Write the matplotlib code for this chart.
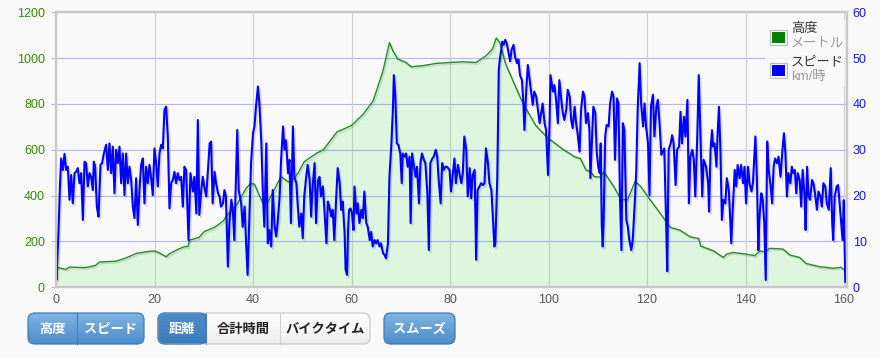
import matplotlib
matplotlib.use('Agg')
import numpy as np
import matplotlib.pyplot as plt
import matplotlib.patheffects as pe
from matplotlib.patches import FancyBboxPatch, Rectangle
from matplotlib.colors import LinearSegmentedColormap

plt.rcParams['font.family'] = ['Liberation Sans', 'Noto Sans CJK JP', 'DejaVu Sans']

# --------------------- Data ---------------------
elev_km = [0, 0.7, 2, 2.7, 6, 8, 8.8, 12.2, 14.2, 16.3, 18.3, 20, 21, 22.4, 23, 25, 26.1,
           26.8, 27.1, 29, 30.1, 32.2, 34, 34.5, 36.9, 38.6, 39.5, 40.3, 41, 42, 43, 45.7,
           47.1, 47.8, 49.1, 50.4, 52.9, 54.3, 57, 60, 62.4, 64.4, 66.4, 67.7, 68.4, 69.4,
           71.1, 72.1, 74.5, 77.2, 80, 82.6, 85.3, 87.3, 88.6, 89.4, 90.1, 91.3, 94.7, 97.4,
           99.7, 102.8, 105.3, 106.5, 107.6, 108.5, 109.3, 110.6, 111.2, 113.3, 114.6, 116,
           117.6, 118.7, 120.7, 122.7, 124.7, 126.7, 128.8, 130.5, 130.9, 133.5, 135.5, 136.2,
           137.5, 140, 141.9, 142.9, 143.9, 144.9, 147.6, 149, 151, 152.3, 155, 157.8, 159.4,
           160.3]
elev_m = [85, 85, 78, 88, 86, 95, 110, 114, 128, 148, 155, 159, 150, 133, 146, 168, 177,
          178, 206, 217, 243, 262, 290, 308, 367, 432, 453, 450, 415, 367, 372, 483,
          461, 462, 497, 548, 585, 600, 677, 706, 756, 814, 945, 1068, 1032, 996,
          981, 962, 967, 977, 981, 984, 981, 1010, 1039, 1088, 1068, 974, 807, 706,
          655, 604, 570, 561, 512, 505, 483, 481, 505, 438, 387, 380,
          462, 440, 380, 322, 262, 249, 220, 213, 180, 159, 130, 145,
          152, 145, 138, 159, 155, 170, 167, 141, 130, 104, 90, 83, 87,
          72]

speed_km = [0.0, 0.1, 0.5, 0.8, 1.05, 1.39, 1.73, 2.06, 2.4, 2.74, 3.08, 3.42, 3.76, 4.09,
            4.43, 4.77, 5.11, 5.45, 5.79, 6.12, 6.46, 6.8, 7.14, 7.48, 7.68, 7.95, 8.29, 8.63,
            9.03, 9.37, 9.71, 10.18, 10.52, 10.86, 11.2, 11.54, 11.87, 12.21, 12.55, 12.89,
            13.23, 13.57, 13.9, 14.24, 14.58, 14.92, 15.26, 15.6, 15.93, 16.27, 16.61, 16.95,
            17.29, 17.63, 17.96, 18.3, 18.64, 18.98, 19.32, 19.65, 19.99, 20.33, 20.67, 21.01,
            21.35, 21.69, 22.02, 22.36, 22.7, 23.04, 23.38, 23.72, 24.05, 24.39, 24.73, 25.07,
            25.41, 25.75, 26.08, 26.42,
            26.9, 27.3, 27.8, 28.1, 28.5, 28.8, 29.1, 29.5, 29.8, 30.1, 30.5, 30.8, 31.2, 31.5,
            31.8, 32.2, 32.5, 32.9, 33.2, 33.5, 33.9, 34.2, 34.5, 34.9, 35.2, 35.6, 35.9, 36.2,
            36.6, 36.8, 37.1, 37.6, 37.9, 38.3, 38.6, 38.9, 39.3, 39.6, 40.0, 40.3, 40.6, 41.0,
            41.3, 41.7, 42.0, 42.3, 42.7, 43.0, 43.3, 43.7, 44.0, 44.4, 44.7, 45.0, 45.4, 45.7,
            46.1, 46.4, 46.7, 47.1, 47.4, 47.7, 48.1, 48.4, 48.8, 49.1, 49.4, 49.8, 50.1, 50.4,
            50.8, 51.1, 51.5, 51.8, 52.1,
            52.5, 52.8, 53.2, 53.5, 53.8, 54.2, 54.5, 54.9, 55.2, 55.5, 55.9, 56.2, 56.5, 56.9,
            57.2, 57.6, 57.9, 58.2, 58.6, 58.8, 59.1, 59.3, 59.5, 59.8, 60.1, 60.4, 60.6, 61.0,
            61.3, 61.6, 62.0, 62.3, 62.6, 63.0, 63.3, 63.7, 64.0, 64.3, 64.7, 65.0, 65.3, 65.7,
            66.0, 66.4, 66.7, 67.0, 67.4, 67.7, 68.1, 68.4, 68.6, 68.9, 69.2, 69.5, 69.9, 70.2,
            70.4, 70.8, 71.1, 71.4, 71.8, 72.0, 72.3, 72.7, 73.0, 73.3, 73.7, 74.0, 74.3, 74.7,
            75.0, 75.4, 75.7, 76.0, 76.4, 76.7, 77.1, 77.4, 77.7, 78.1, 78.4, 78.7, 79.1, 79.4,
            79.9, 80.2, 80.6, 80.9, 81.2, 81.6, 81.9, 82.3, 82.6, 82.9, 83.3, 83.6, 84.0, 84.3,
            84.6, 85.0, 85.3, 85.6, 86.0, 86.3, 86.7, 87.0, 87.3, 87.7, 88.0, 88.4, 88.7, 89.0,
            89.2, 89.6, 89.9, 90.1, 90.4, 90.6, 90.9, 91.2, 91.5, 91.9, 92.2, 92.5, 92.9, 93.2,
            93.6, 93.9, 94.2, 94.6, 94.9, 95.1, 95.5, 95.8, 96.1, 96.5, 96.8, 97.1, 97.5, 97.8,
            98.2, 98.5, 98.8, 99.2, 99.5, 99.9, 100.2, 100.4, 100.7, 100.9, 101.2, 101.5, 101.9,
            102.2, 102.6, 102.9, 103.2, 103.6, 103.9, 104.3, 104.6, 104.9, 105.3, 105.6, 105.9,
            106.3, 106.6, 107.0, 107.3, 107.6, 108.0, 108.3, 108.5, 108.8, 109.1, 109.5, 109.8,
            110.1, 110.4, 110.6, 110.8, 111.0, 111.2, 111.5, 111.8, 112.2, 112.5, 112.9, 113.2,
            113.5, 113.9, 114.2, 114.5, 114.8, 115.1, 115.4, 115.8, 116.1, 116.4, 116.8, 117.1,
            117.5, 117.8, 118.1, 118.5, 118.8, 119.2, 119.5, 119.8, 120.2, 120.5, 120.8, 121.2,
            121.5, 121.9, 122.2, 122.5, 122.9, 123.2, 123.5, 123.9, 124.1, 124.4, 124.8, 125.1,
            125.4, 125.8, 126.1, 126.5, 126.8, 127.1, 127.5, 127.8, 128.2, 128.5, 128.8, 129.2,
            129.5, 129.8, 130.2, 130.5, 130.9, 131.2, 131.5,
            132.0, 132.4, 132.6, 132.9, 133.2, 133.4, 133.7, 134.1, 134.3, 134.6, 134.9, 135.2,
            135.5, 135.9, 136.2, 136.6, 136.8, 137.1, 137.4, 137.8, 138.1, 138.4, 138.8, 139.1,
            139.5, 139.8, 140.1, 140.5, 140.8, 141.2, 141.5, 142.0, 142.3, 142.6, 142.8, 143.2,
            143.5, 143.8, 144.1, 144.4, 144.7, 145.1, 145.4, 145.7, 146.0, 146.4, 146.7, 147.1,
            147.5, 147.8, 148.1, 148.4, 148.7, 149.1, 149.4, 149.7, 150.0, 150.3, 150.6, 151.0,
            151.3, 151.6, 152.0, 152.2, 152.5, 152.8, 153.1, 153.5, 153.8, 154.1, 154.5, 154.8,
            155.2, 155.5, 155.8, 156.2, 156.5, 156.9, 157.3, 157.6, 157.8, 158.1, 158.5, 158.8,
            159.2, 159.4, 159.7, 159.95, 160.25]
speed_kmh = [4.0, 1.6, 12.0, 22.0, 28.1, 25.6, 29.1, 25.6, 26.3, 19.1, 24.5, 18.3, 24.9, 25.2,
             26.0, 22.7, 24.9, 14.7, 27.4, 27.1, 22.0, 24.9, 24.1, 21.2, 27.4, 26.3, 17.6, 15.4,
             26.7, 27.1, 29.2, 31.1, 25.6, 31.4, 24.9, 30.7, 20.5, 30.0, 27.1, 30.7,
             22.7, 29.2, 20.1, 29.2, 22.7, 26.3, 23.4, 17.6, 15.1, 23.8, 13.6, 21.2,
             26.7, 28.1, 18.3, 26.3, 22.7, 26.7, 23.8, 20.1, 30.3, 27.1, 22.0, 29.2,
             31.1, 30.3, 38.7, 39.4, 32.9, 17.2, 22.7, 23.4, 25.2, 22.7, 24.9, 23.4,
             24.1, 17.6, 26.3, 25.6,
             10.3, 24.9, 20.9, 24.1, 16.1, 36.5, 15.8, 21.2, 24.1, 22.0, 19.8, 24.9, 31.4, 31.8,
             18.3, 25.2, 22.7, 20.5, 19.8, 17.6, 18.3, 21.2, 19.8, 4.5, 14.0, 19.1, 16.9, 10.3,
             26.3, 34.3, 21.2, 18.3, 13.2, 17.6, 9.6, 2.7, 16.9, 27.1, 33.6, 35.1, 39.4, 43.8,
             40.1, 31.4, 20.5, 13.2, 31.4, 9.6, 12.5, 8.9, 21.2, 13.2, 11.1, 14.0, 19.8, 27.8,
             35.1, 30.0, 32.1, 24.9, 27.8, 14.0, 35.1, 24.1, 22.7, 17.6, 13.2, 16.1, 10.7, 19.8,
             24.1, 26.7, 23.4, 15.4, 22.0,
             27.1, 14.0, 23.4, 24.1, 19.8, 22.0, 16.9, 9.6, 18.7, 17.6, 15.4, 16.9, 10.3, 19.8,
             26.0, 22.7, 16.9, 18.7, 11.8, 3.8, 2.7, 12.5, 16.9, 17.2, 16.1, 12.5, 22.0, 16.1,
             18.3, 14.0, 16.9, 15.1, 20.9, 14.0, 13.2, 10.3, 12.1, 8.9, 10.3, 9.6, 10.3, 8.9,
             9.6, 7.4, 7.1, 6.3, 9.6, 24.1, 31.4, 38.7, 46.3, 41.6, 31.4, 31.1, 29.2, 22.7,
             29.2, 28.5, 29.2, 26.3, 28.5, 14.0, 29.2, 26.3, 24.1, 26.3, 18.3, 27.1, 29.2, 27.8,
             27.1, 20.5, 8.1, 27.1, 28.1, 28.5, 30.0, 28.5, 23.4, 18.3, 27.1, 25.6, 26.3, 26.3,
             25.6, 20.9, 24.9, 28.1, 22.7, 26.7, 24.9, 22.7, 24.9, 32.9, 30.0, 19.8, 26.0, 19.4,
             24.5, 25.6, 6.0, 21.2, 22.0, 22.7, 22.3, 22.7, 30.3, 27.1, 22.7, 21.2, 15.4, 8.9,
             9.6, 24.1, 47.4, 49.6, 51.8, 53.6, 52.9, 54.0, 53.3, 51.1, 49.3, 51.8, 52.9, 50.3,
             48.9, 49.7, 46.3, 45.2, 40.1, 34.3, 43.4, 48.5, 46.0, 42.3, 39.8, 42.7, 41.6, 39.1,
             35.8, 38.0, 40.1, 35.8, 34.3, 24.5, 35.1, 46.3, 44.1, 42.7, 44.1, 41.2, 35.8,
             45.2, 40.9, 38.0, 36.5, 38.7, 43.1, 41.6, 36.5, 34.7, 39.4, 35.8, 33.6,
             29.6, 38.7, 42.7, 41.6, 35.8, 38.0, 34.3, 23.8, 31.4, 39.4, 38.0, 29.2,
             26.3, 24.9, 31.4, 14.0, 8.9, 14.7, 32.9, 35.4, 35.1, 40.1, 42.7, 41.6,
             27.8, 41.2, 40.1, 19.8, 8.1, 35.8, 34.3, 14.7, 13.2, 10.3, 8.1, 10.3,
             18.3, 24.9, 38.7, 48.9, 40.1, 35.1, 40.1, 35.1, 31.4, 20.1, 39.4, 42.0,
             32.9, 39.4, 40.9, 36.5, 28.9, 29.6, 30.3, 13.2, 3.5, 30.0, 31.4, 33.2,
             31.4, 22.3, 30.0, 30.7, 38.3, 31.4, 37.2, 32.9, 40.9, 18.3, 28.5, 30.0,
             27.8, 19.8, 32.9, 46.3, 31.4, 19.8, 27.8,
             26.3, 22.7, 16.5, 30.0, 34.3, 30.7, 31.4, 26.3, 32.9, 39.4, 30.0, 14.7,
             19.1, 18.3, 23.8, 21.2, 16.9, 9.6, 16.9, 25.6, 22.0, 26.7, 23.8, 26.7,
             22.7, 26.3, 18.3, 26.3, 22.7, 20.9, 22.7, 32.9, 24.1, 8.1, 14.7, 20.5,
             19.1, 14.0, 1.6, 31.8, 25.6, 22.0, 18.3, 26.3, 28.1, 27.1, 28.5, 24.1,
             30.0, 33.6, 29.2, 19.8, 24.9, 22.7, 26.3, 24.9, 25.6, 20.5, 24.9, 23.4,
             17.6, 25.6, 19.8, 12.5, 26.3, 19.8, 19.1, 23.4, 22.7, 20.5, 16.9, 20.9,
             19.8, 17.6, 22.7, 22.0, 18.3, 16.9, 26.0, 14.0, 10.3, 19.8, 22.0, 22.3,
             16.9, 14.0, 10.3, 19.0, 1.2]

x_ticks = [0, 20, 40, 60, 80, 100, 120, 140, 160]
elev_ticks = [0, 200, 400, 600, 800, 1000, 1200]
speed_ticks = [0, 10, 20, 30, 40, 50, 60]

legend_items = [('高度', 'メートル', '#008000'), ('スピード', 'km/時', '#0000ff')]
buttons = [
    # (group, label, state)
    (0, '高度', 'on'), (0, 'スピード', 'on'),
    (1, '距離', 'active'), (1, '合計時間', 'off'), (1, 'バイクタイム', 'off'),
    (2, 'スムーズ', 'on'),
]

# --------------------- Figure ---------------------
W, H = 880, 358
BG = '#f9f9f9'
fig = plt.figure(figsize=(W / 100, H / 100), dpi=100, facecolor=BG)


def px_box(x0, y0, x1, y1):
    return [x0 / W, 1 - y1 / H, (x1 - x0) / W, (y1 - y0) / H]


ax = fig.add_axes(px_box(56, 12.3, 846.5, 287.3))
ax.set_facecolor(BG)
ax2 = ax.twinx()

# elevation area
ax.fill_between(elev_km, elev_m, 0, color='#00e000', alpha=0.11, lw=0, zorder=2)
ax.plot(elev_km, elev_m, color='#228b22', lw=1.0, zorder=3,
        path_effects=[pe.SimpleLineShadow(offset=(1, -1.2), shadow_color='k', alpha=0.12),
                      pe.Normal()])

# speed line
ax2.plot(speed_km, speed_kmh, color='#0000ff', lw=1.5, solid_joinstyle='round',
         path_effects=[pe.SimpleLineShadow(offset=(1.2, -1.5), shadow_color='k', alpha=0.13),
                       pe.Normal()])

ax.set_xlim(0, 160.5)
ax.set_ylim(0, 1200)
ax2.set_ylim(0, 60)
ax.set_xticks(x_ticks)
ax.set_yticks(elev_ticks)
ax2.set_yticks(speed_ticks)

# grid
for v in elev_ticks[1:-1]:
    ax.axhline(v, color='#b3b3fa', lw=0.8, zorder=1)
for v in x_ticks[1:]:
    ax.axvline(v, color='#cfcfcf', lw=0.8, zorder=1)

ax.tick_params(axis='y', colors='#bbbbbb', labelcolor='#3a8a00', length=3.5, width=0.8,
               pad=4.5, labelsize=9)
ax.tick_params(axis='x', length=0, pad=5, labelcolor='#555555', labelsize=9)
ax2.tick_params(axis='y', length=0, pad=4.5, labelcolor='#1515ff', labelsize=9)

for a in (ax, ax2):
    for s in a.spines.values():
        s.set_color('#c8c8c8')
        s.set_linewidth(1.6)

# --------------------- Overlay: legend and buttons ---------------------
ov = fig.add_axes([0, 0, 1, 1], zorder=5)
ov.axis('off')

# legend
ov.add_patch(Rectangle((765, 20), 80, 66, facecolor=BG, edgecolor='none', alpha=0.9))
for i, (name, unit, col) in enumerate(legend_items):
    top = 29.5 + i * 33
    ov.add_patch(Rectangle((769.5, top), 17, 15, facecolor=BG, edgecolor='#bdbdbd', lw=0.8))
    ov.add_patch(Rectangle((771.5, top + 2), 13, 11, facecolor=col, edgecolor='none'))
    ov.text(791, top - 0.5, name, fontsize=9.5, color='#333333', va='center', ha='left')
    ov.text(791, top + 14.5, unit, fontsize=9.5, color='#999999', va='center', ha='left')

# buttons
groups = {0: (28, [77], 144), 1: (158, [206, 280], 370), 2: (384, [], 455)}
y0, y1 = 313, 344
styles = {
    'on': ('#7db4e2', '#4e8dc8', '#ffffff', '#3f7cb8'),
    'active': ('#4d8cc6', '#3c7dbc', '#ffffff', '#3f7cb8'),
    'off': ('#ffffff', '#eeeeee', '#222222', '#c8c8c8'),
}
seg_idx = {0: 0, 1: 0, 2: 0}
for g, label, state in buttons:
    gx0, cuts, gx1 = groups[g]
    edges = [gx0] + cuts + [gx1]
    k = seg_idx[g]
    seg_idx[g] += 1
    sx0, sx1 = edges[k], edges[k + 1]
    top_c, bot_c, txt_c, edge_c = styles[state]
    clip = FancyBboxPatch((gx0, y0), gx1 - gx0, y1 - y0,
                          boxstyle='round,pad=0,rounding_size=7', transform=ov.transData)
    cmap = LinearSegmentedColormap.from_list('btn', [top_c, bot_c])
    im = ov.imshow(np.linspace(0, 1, 32)[:, None], extent=(sx0, sx1, y1, y0), cmap=cmap,
                   aspect='auto', interpolation='bilinear', zorder=1)
    im.set_clip_path(clip)
    ov.text((sx0 + sx1) / 2, (y0 + y1) / 2 + 0.5, label, fontsize=9.5, fontweight='bold',
            color=txt_c, ha='center', va='center', zorder=3,
            family=['Noto Sans CJK JP', 'DejaVu Sans'])
    if k > 0:
        ov.plot([sx0, sx0], [y0, y1], color='#3f7cb8' if state != 'off' or k == 1 else '#d0d0d0',
                lw=0.8, zorder=2)

for g, (gx0, cuts, gx1) in groups.items():
    col = '#c8c8c8' if g == 1 else '#3f7cb8'
    ov.add_patch(FancyBboxPatch((gx0, y0), gx1 - gx0, y1 - y0,
                                boxstyle='round,pad=0,rounding_size=7', facecolor='none',
                                edgecolor=col, lw=0.9, zorder=2))
# blue border of the active button inside the mixed group
ov.add_patch(FancyBboxPatch((158, y0), 48, y1 - y0, boxstyle='round,pad=0,rounding_size=7',
                            facecolor='none', edgecolor='#3f7cb8', lw=0.9, zorder=2.5))
ov.add_patch(Rectangle((190, y0), 16, y1 - y0, facecolor='none', edgecolor='none'))

ov.set_xlim(0, W)
ov.set_ylim(H, 0)

fig.savefig('out.png', dpi=100, facecolor=BG)
